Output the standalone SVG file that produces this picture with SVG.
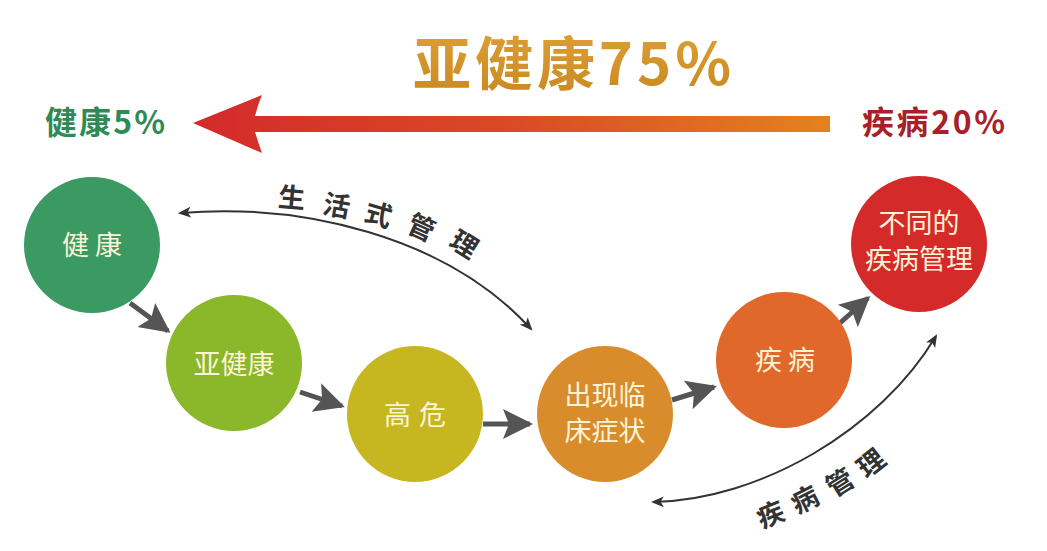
<svg xmlns="http://www.w3.org/2000/svg" width="1047" height="551" viewBox="0 0 1047 551">
<defs>
<linearGradient id="bigArrow" x1="0" y1="0" x2="1" y2="0">
<stop offset="0" stop-color="#d42a2a"/>
<stop offset="0.5" stop-color="#da4a26"/>
<stop offset="1" stop-color="#e4821e"/>
</linearGradient>
<linearGradient id="gold" x1="0" y1="0" x2="0" y2="1">
<stop offset="0" stop-color="#e0a23a"/>
<stop offset="1" stop-color="#c8881e"/>
</linearGradient>
<marker id="thin" viewBox="0 0 12 10" refX="10" refY="5" markerWidth="13" markerHeight="11" markerUnits="userSpaceOnUse" orient="auto-start-reverse">
<path d="M0,0 L12,5 L0,10 L3,5 Z" fill="#333"/>
</marker>
<marker id="thick" viewBox="0 0 10 10" refX="9" refY="5" markerWidth="6" markerHeight="6.5" orient="auto">
<path d="M0,0 L10,5 L0,10 L2,5 Z" fill="#555"/>
</marker>
</defs>
<style>
.cjk{font-family:"Noto Sans CJK SC","Noto Sans",sans-serif}
.node-text{font-size:27px;fill:#fdf3d6;text-anchor:middle}
.curve-text{font-size:27px;fill:#333;font-weight:bold;text-anchor:middle;dominant-baseline:central}
.conn{stroke:#555;stroke-width:5;fill:none;marker-end:url(#thick)}
.curve{stroke:#333;stroke-width:2;fill:none;marker-start:url(#thin);marker-end:url(#thin)}
</style>
<rect width="1047" height="551" fill="#ffffff"/>

<g id="title">
<text class="cjk" x="572" y="85" font-size="58" font-weight="bold" fill="url(#gold)" text-anchor="middle" textLength="318" lengthAdjust="spacing">亚健康75%</text>
</g>
<g id="label-healthy">
<text class="cjk" x="45" y="134" font-size="32" font-weight="bold" fill="#2f8a56" textLength="120" lengthAdjust="spacing">健康5%</text>
</g>
<g id="label-disease">
<text class="cjk" x="862" y="134" font-size="32" font-weight="bold" fill="#a8202a" textLength="143" lengthAdjust="spacing">疾病20%</text>
</g>
<g id="big-arrow">
<path d="M830,116 L255,116 Q258,104 262,95 L193,123 L262,153 Q258,142 255,132 L830,132 Z" fill="url(#bigArrow)"/>
</g>

<g id="connectors">
<path class="conn" d="M130,303 L168,331"/>
<path class="conn" d="M300,392 L342,406"/>
<path class="conn" d="M483,424 L530,424"/>
<path class="conn" d="M672,400 L714,387"/>
<path class="conn" d="M840,323 L868,298"/>
<path class="curve" d="M180,213 C300,203 445,235 531,329"/>
<path class="curve" d="M653,502 C760,500 880,430 936,336"/>
</g>

<g id="curve-label-lifestyle" class="cjk">
<text class="curve-text" transform="translate(292,196) rotate(5)">生</text>
<text class="curve-text" transform="translate(337,204) rotate(10)">活</text>
<text class="curve-text" transform="translate(379,213) rotate(16)">式</text>
<text class="curve-text" transform="translate(422,226) rotate(24)">管</text>
<text class="curve-text" transform="translate(465,243) rotate(32)">理</text>
</g>
<g id="curve-label-disease" class="cjk">
<text class="curve-text" transform="translate(770,513) rotate(-22)">疾</text>
<text class="curve-text" transform="translate(804,498) rotate(-27)">病</text>
<text class="curve-text" transform="translate(839,481) rotate(-32)">管</text>
<text class="curve-text" transform="translate(870,462) rotate(-38)">理</text>
</g>

<g id="node-healthy">
<circle cx="92" cy="245" r="68" fill="#3a9a62"/>
<text class="cjk node-text" x="95" y="255" letter-spacing="6">健康</text>
</g>
<g id="node-subhealthy">
<circle cx="234" cy="363" r="68" fill="#8ab82a"/>
<text class="cjk node-text" x="234" y="374">亚健康</text>
</g>
<g id="node-highrisk">
<circle cx="415" cy="414" r="68" fill="#c6b620"/>
<text class="cjk node-text" x="419" y="425" letter-spacing="8">高危</text>
</g>
<g id="node-symptoms">
<circle cx="605" cy="414" r="68" fill="#d98c2c"/>
<text class="cjk node-text" x="605" y="405">出现临</text>
<text class="cjk node-text" x="605" y="441">床症状</text>
</g>
<g id="node-disease">
<circle cx="784" cy="360" r="68" fill="#e0682a"/>
<text class="cjk node-text" x="788" y="370" letter-spacing="6">疾病</text>
</g>
<g id="node-management">
<circle cx="919" cy="244" r="68" fill="#d42a2a"/>
<text class="cjk node-text" x="919" y="233">不同的</text>
<text class="cjk node-text" x="919" y="269">疾病管理</text>
</g>
</svg>
